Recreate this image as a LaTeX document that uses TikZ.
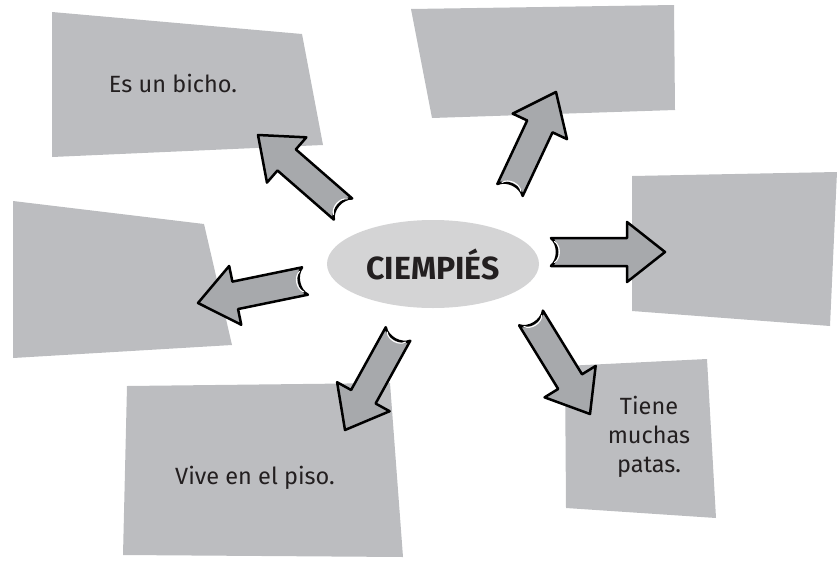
\documentclass[tikz,border=0pt]{standalone}
\usepackage{fontspec}
\setmainfont{Fira Sans}
\usetikzlibrary{calc,shapes.geometric}
\definecolor{boxgray}{HTML}{BCBDC0}
\definecolor{arrgray}{HTML}{A7A9AC}
\definecolor{ellgray}{HTML}{D4D4D5}
\definecolor{ink}{HTML}{231F20}
\newcommand\blockarrow[2]{%
  \coordinate (hb) at ($(#2)!38pt!(#1)$);
  \coordinate (t2) at ($(#1)!8pt!(#2)$);
  \coordinate (t3) at ($(#1)!3.5pt!(#2)$);
  \coordinate (t4) at ($(#1)!10pt!(#2)$);
  \draw[blk] ($(#1)!14pt!90:(#2)$)
    -- ($(hb)!14pt!90:(#2)$) -- ($(hb)!30pt!90:(#2)$) -- (#2)
    -- ($(hb)!30pt!-90:(#2)$) -- ($(hb)!14pt!-90:(#2)$)
    -- ($(#1)!14pt!-90:(#2)$)
    .. controls ($(t2)!8pt!-90:(#2)$) and ($(t2)!8pt!90:(#2)$) .. cycle;
  \draw[hl] ($(t3)!10.5pt!-90:(#2)$)
    .. controls ($(t4)!6pt!-90:(#2)$) and ($(t4)!6pt!90:(#2)$) .. ($(t3)!10.5pt!90:(#2)$);
}
\begin{document}
\begin{tikzpicture}[x=1pt,y=-1pt,
  card/.style={fill=boxgray,draw=none},
  lbl/.style={text=ink,font=\fontsize{23.5}{29}\selectfont,align=center},
  blk/.style={fill=arrgray,draw=black,line width=2.5pt,line join=round},
  hl/.style={draw=white,line width=1.1pt,line cap=round}]
\useasboundingbox (0,0) rectangle (838,563);
% cards
\fill[card] (52,12) -- (302,34) -- (323,145) -- (52,157) -- cycle;
\fill[card] (411,9) -- (674,5) -- (675,110) -- (432,118) -- cycle;
\fill[card] (632,176) -- (837,172) -- (830,326) -- (632,311) -- cycle;
\fill[card] (13,201) -- (204,224) -- (232,345) -- (13,358) -- cycle;
\fill[card] (127,386) -- (390,383) -- (403,557) -- (123,555) -- cycle;
\fill[card] (565,366) -- (707,359) -- (716,518) -- (566,508) -- cycle;
% labels
\node[lbl] (l1) at (173,83) {Es un bicho.};
\node[lbl] (l2) at (255,478) {Vive en el piso.};
\node[lbl] (l3) at (649,437) {Tiene\\muchas\\patas.};
% centre
\node[ellipse,fill=ellgray,minimum width=212pt,minimum height=88pt,inner sep=0pt,
  text=ink,font=\fontsize{32}{36}\selectfont\bfseries] (c) at (433,264) {CIEMPIÉS};
% arrows
\coordinate (a1t) at (343,209); \coordinate (a1p) at (258,135);
\coordinate (a2t) at (510,190); \coordinate (a2p) at (556,92);
\coordinate (a3t) at (551,252); \coordinate (a3p) at (665,252);
\coordinate (a4t) at (305,281); \coordinate (a4p) at (198,303);
\coordinate (a5t) at (398,334); \coordinate (a5p) at (345,430);
\coordinate (a6t) at (531,318); \coordinate (a6p) at (590,414);
\blockarrow{a1t}{a1p}
\blockarrow{a2t}{a2p}
\blockarrow{a3t}{a3p}
\blockarrow{a4t}{a4p}
\blockarrow{a5t}{a5p}
\blockarrow{a6t}{a6p}
\end{tikzpicture}
\end{document}
